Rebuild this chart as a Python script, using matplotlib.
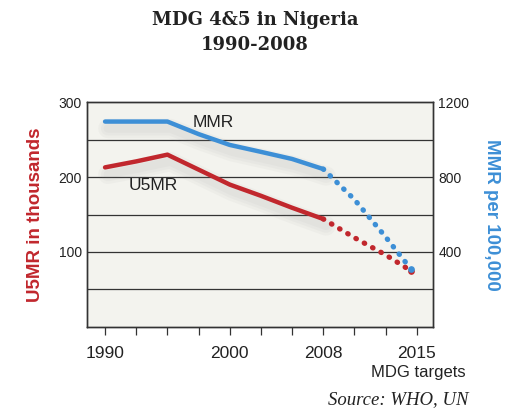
import matplotlib.pyplot as plt
import matplotlib.patheffects as pe

# tick slots along the x axis (evenly spaced, only some labelled)
slots = list(range(11))
slot_labels = {0: '1990', 4: '2000', 7: '2008', 10: '2015'}

# U5MR (thousands), left axis
u5_x = [0, 1, 2, 3, 4, 5, 6, 7]
u5_y = [213, 221, 230, 210, 190, 175, 159, 144]
u5_proj_x = [7, 8, 9, 9.8]
u5_proj_y = [144, 119, 96, 75]

# MMR (per 100,000), right axis
mmr_x = [0, 1, 2, 3, 4, 5, 6, 7]
mmr_y = [1097, 1097, 1097, 1030, 972, 935, 897, 843]
mmr_proj_x = [7, 8, 9, 9.8]
mmr_proj_y = [843, 680, 480, 311]

red = '#c1272d'
blue = '#3d8fd6'
plt.rcParams['font.family'] = ['Liberation Sans', 'DejaVu Sans']

fig = plt.figure(figsize=(5.07, 4.12), dpi=100)
ax = fig.add_axes([87.3 / 507, 1 - 326.7 / 412, (432.7 - 87.3) / 507, (326.7 - 102.3) / 412])
ax.set_facecolor('#f3f3ee')
ax2 = ax.twinx()

# soft drop shadow built from a few faint strokes
shadow = [pe.SimpleLineShadow(offset=(2, -5), shadow_color='#888888', alpha=0.05, linewidth=w)
          for w in (14, 10, 6)] + [pe.Normal()]

ax.plot(u5_x, u5_y, color=red, lw=3.2, solid_capstyle='round', path_effects=shadow, zorder=3)
ax.plot(u5_proj_x, u5_proj_y, color=red, lw=3.8, ls=(0, (0.1, 1.7)), dash_capstyle='round',
        marker='o', ms=3.8, markevery=[-1], zorder=3)
ax2.plot(mmr_x, mmr_y, color=blue, lw=3.2, solid_capstyle='round', path_effects=shadow, zorder=3)
ax2.plot(mmr_proj_x, mmr_proj_y, color=blue, lw=3.8, ls=(0, (0.1, 1.7)), dash_capstyle='round',
         marker='o', ms=3.8, markevery=[-1], zorder=3)

ax.set_xlim(-0.57, 10.51)
ax.set_ylim(0, 300)
ax2.set_ylim(0, 1200)

for v in [50, 100, 150, 200, 250]:
    ax.axhline(v, color='#333333', lw=0.9, zorder=1)

ax.set_xticks(slots)
ax.set_xticklabels([slot_labels.get(s, '') for s in slots], fontsize=12.5, color='#222222')
ax.tick_params(axis='x', length=6, width=0.9, color='#333333', pad=8)
ax.set_yticks([100, 200, 300])
ax.tick_params(axis='y', length=0, labelsize=10, labelcolor='#222222', pad=4)
ax2.set_yticks([400, 800, 1200])
ax2.tick_params(axis='y', length=0, labelsize=10, labelcolor='#222222', pad=4)

for a in (ax, ax2):
    for s in a.spines.values():
        s.set_color('#333333')
        s.set_linewidth(1)

ax.set_ylabel('U5MR in thousands', color=red, fontsize=13.5, fontweight='bold', labelpad=10)
ax2.set_ylabel('MMR per 100,000', color=blue, fontsize=13.5, fontweight='bold', rotation=-90, labelpad=22)

ax.text(2.8, 273, 'MMR', fontsize=12.5, color='#222222', va='center', ha='left')
ax.text(0.75, 189, 'U5MR', fontsize=12.5, color='#222222', va='center', ha='left')

fig.text(255 / 507, 1 - 20 / 412, 'MDG 4&5 in Nigeria', family='DejaVu Serif', fontweight='bold',
         fontsize=13, ha='center', va='center', color='#222222')
fig.text(255 / 507, 1 - 45 / 412, '1990-2008', family='DejaVu Serif', fontweight='bold',
         fontsize=13, ha='center', va='center', color='#222222')
fig.text(466 / 507, 1 - 373 / 412, 'MDG targets', fontsize=12, ha='right', va='center', color='#222222')
fig.text(468 / 507, 1 - 400 / 412, 'Source: WHO, UN', family='Liberation Serif', style='italic',
         fontsize=13.5, ha='right', va='center', color='#222222')

fig.savefig('out.png', dpi=100)
